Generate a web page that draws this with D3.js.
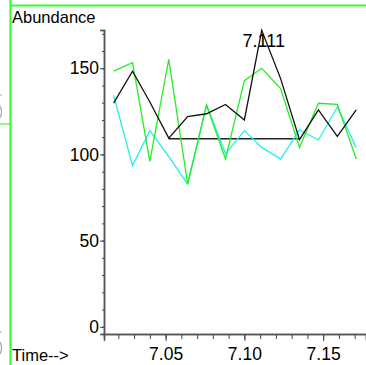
<!DOCTYPE html>
<html><head><meta charset="utf-8">
<script src="https://cdn.jsdelivr.net/npm/d3@7"></script>
<style>html,body{margin:0;padding:0;background:#fff;overflow:hidden}svg{display:block}</style>
</head><body>
<script>
const times = [7.017,7.029,7.040,7.052,7.064,7.076,7.088,7.100,7.111,7.123,7.135,7.147,7.159,7.171];
const blackSeries = [129.8,148.3,130.4,109.5,122,123.6,129,120,172,144,108.6,125.8,110.5,125.8];
const greenSeries = [148.3,153.3,96,155.2,83,128.5,97.3,142.8,150,138.2,104.1,129.7,129,97.3];
const cyanSeries = [134.3,93.5,113.8,98.8,82.8,128.9,100.2,113.8,104.1,97.3,114.3,108.4,127.5,104.1];
const baseLevel = 109.1, baseFrom = 3, baseTo = 10;
const yMajor = [0,50,100,150];
const yMinor = d3.range(0,171,10);
const xMajor = [7.05,7.10,7.15];
const xMinor = d3.range(7.02,7.175,0.01);
const peakLabel = "7.111";
const yTitle = "Abundance", xTitle = "Time-->";

const W=366,H=365;
const svg=d3.select("body").append("svg").attr("width",W).attr("height",H);
const font="'Liberation Sans', Arial, sans-serif";
const x=d3.scaleLinear().domain([7.0109,7.1772]).range([104,366]);
const y=d3.scaleLinear().domain([-4.2,172.2]).range([334,30]);
const green="#22ee22", cyan="#22eeee", frame="#33ff33";

// frame lines
svg.append("line").attr("x1",10).attr("x2",366).attr("y1",5.5).attr("y2",5.5).attr("stroke",frame).attr("stroke-width",1.8);
svg.append("line").attr("x1",10.5).attr("x2",10.5).attr("y1",0).attr("y2",H).attr("stroke",frame).attr("stroke-width",2.2);
svg.append("line").attr("x1",0).attr("x2",10).attr("y1",124).attr("y2",124).attr("stroke",frame).attr("stroke-width",1.2);
// clipped fragments at left edge (drawn as small marks)
[[95,112],[332,348]].forEach(([a,b])=>{
  svg.append("line").attr("x1",0).attr("x2",2).attr("y1",a).attr("y2",a).attr("stroke","#aaa").attr("stroke-width",1);
  svg.append("path").attr("d",`M0,${b-6} Q3,${b} 0,${b+6}`).attr("fill","none").attr("stroke","#aaa").attr("stroke-width",1.3);
});

// minor ticks
const gy=svg.append("g").attr("transform","translate(104,0)");
gy.call(d3.axisLeft(y).tickValues(yMinor).tickSize(2).tickFormat(""));
const gyM=svg.append("g").attr("transform","translate(104,0)");
gyM.call(d3.axisLeft(y).tickValues(yMajor).tickSize(4).tickPadding(1).tickFormat(d3.format("d")));
const gx=svg.append("g").attr("transform","translate(0,334)");
gx.call(d3.axisBottom(x).tickValues(xMinor).tickSize(5).tickFormat(""));
const gxM=svg.append("g").attr("transform","translate(0,334)");
gxM.call(d3.axisBottom(x).tickValues(xMajor).tickSize(7).tickPadding(7).tickFormat(d3.format(".2f")));
svg.selectAll(".domain").attr("stroke","#555").attr("stroke-width",1.5);
svg.selectAll(".tick line").attr("stroke","#444");
svg.selectAll(".tick text").attr("font-family",font).attr("font-size",17.5).attr("fill","#000");

const line=d3.line().x((d,i)=>x(times[i])).y(d=>y(d));
// horizontal base segment
svg.append("path").datum([baseFrom,baseTo])
  .attr("d",d3.line().x(i=>x(times[i])).y(()=>y(baseLevel)))
  .attr("fill","none").attr("stroke","#222").attr("stroke-width",1.3);
[[cyanSeries,cyan],[greenSeries,green],[blackSeries,"#111"]].forEach(([s,c])=>{
  svg.append("path").datum(s).attr("d",line).attr("fill","none").attr("stroke",c).attr("stroke-width",1.3);
});

svg.append("text").attr("x",12).attr("y",23).attr("font-family",font).attr("font-size",16.5).attr("fill","#000").text(yTitle);
svg.append("text").attr("x",12).attr("y",361).attr("font-family",font).attr("font-size",16.5).attr("fill","#000").text(xTitle);
svg.append("text").attr("x",x(times[8])+2).attr("y",47).attr("text-anchor","middle").attr("font-family",font).attr("font-size",18).attr("fill","#000").text(peakLabel);
</script>
</body></html>
